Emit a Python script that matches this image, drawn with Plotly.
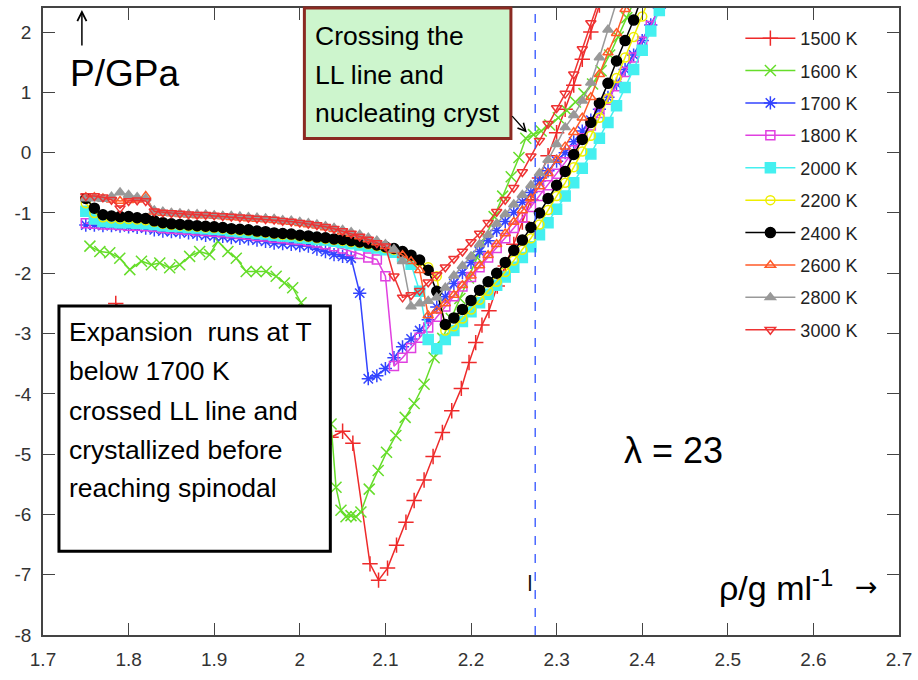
import plotly.graph_objects as go

# ---------------- data ----------------
RHO_GRID = [1.75, 1.76, 1.77, 1.78, 1.79, 1.80, 1.81, 1.82, 1.83, 1.84,
            1.85, 1.86, 1.87, 1.88, 1.89, 1.90, 1.91, 1.92, 1.93, 1.94,
            1.95, 1.96, 1.97, 1.98, 1.99, 2.00, 2.01, 2.02, 2.03, 2.04,
            2.05, 2.06, 2.07, 2.08, 2.09, 2.10, 2.11, 2.12, 2.13, 2.14,
            2.15, 2.16, 2.17, 2.18, 2.19, 2.20, 2.21, 2.22, 2.23, 2.24,
            2.25, 2.26, 2.27, 2.28, 2.29, 2.30, 2.31, 2.32, 2.33, 2.34,
            2.35, 2.36, 2.37, 2.38, 2.39, 2.40, 2.41, 2.42, 2.43]

T1500_RHO = [1.785, 1.80, 1.83, 1.87, 1.91, 1.95, 1.99, 2.02, 2.0365, 2.05,
             2.062, 2.082, 2.092, 2.1025, 2.113, 2.124, 2.1336, 2.1452, 2.1557, 2.1666,
             2.1775, 2.1887, 2.1977, 2.2055, 2.2128, 2.221, 2.2307, 2.24, 2.25, 2.26,
             2.27, 2.28, 2.29, 2.30, 2.31, 2.32, 2.33, 2.34, 2.35]
T1500_P = [-2.50, -2.75, -3.05, -3.35, -3.65, -3.95, -4.25, -4.55, -4.72, -4.62,
           -4.82, -6.82, -7.09, -6.89, -6.51, -6.13, -5.77, -5.43, -5.04, -4.64,
           -4.28, -3.91, -3.48, -3.15, -2.86, -2.62, -2.21, -1.88, -1.52, -1.15,
           -0.78, -0.42, -0.05, 0.33, 0.72, 1.12, 1.55, 2.00, 2.45]

T1600_RHO = [1.7548, 1.7664, 1.778, 1.7897, 1.8014, 1.815, 1.8267, 1.8364, 1.848, 1.8597,
             1.8713, 1.883, 1.8946, 1.9043, 1.916, 1.9258, 1.9374, 1.949, 1.9607, 1.9724,
             1.982, 1.9917, 2.0015, 2.012, 2.022, 2.030, 2.0365, 2.0423, 2.0481, 2.054,
             2.0598, 2.0656, 2.0714, 2.0811, 2.0916, 2.1013, 2.1122, 2.1231, 2.1336, 2.1452,
             2.1569, 2.167, 2.177, 2.187, 2.197, 2.207, 2.217, 2.227, 2.237, 2.247,
             2.256, 2.264, 2.273, 2.282, 2.292, 2.302, 2.312, 2.322, 2.332, 2.342,
             2.352, 2.362, 2.372, 2.382, 2.390]
T1600_P = [-1.55, -1.64, -1.66, -1.75, -1.94, -1.80, -1.86, -1.83, -1.91, -1.86,
           -1.72, -1.64, -1.69, -1.47, -1.64, -1.75, -1.97, -1.97, -1.97, -2.05,
           -2.16, -2.24, -2.49, -2.90, -3.40, -3.90, -4.50, -5.55, -5.93, -6.04,
           -6.02, -6.04, -5.96, -5.58, -5.27, -4.97, -4.69, -4.39, -4.16, -3.84,
           -3.40, -3.08, -2.75, -2.42, -2.08, -1.74, -1.40, -1.06, -0.72, -0.40,
           -0.08, 0.24, 0.30, 0.36, 0.46, 0.58, 0.70, 0.84, 0.98, 1.14,
           1.36, 1.62, 1.92, 2.24, 2.50]

# pressures on RHO_GRID, starting at 1.75
T1700_P = [-1.20, -1.20, -1.21, -1.21, -1.22, -1.23, -1.24, -1.25, -1.28, -1.30,
           -1.31, -1.32, -1.33, -1.35, -1.37, -1.38, -1.39, -1.41, -1.42, -1.43,
           -1.45, -1.47, -1.50, -1.51, -1.52, -1.54, -1.55, -1.60, -1.64, -1.69,
           -1.72, -1.75, -2.33, -3.75, -3.70, -3.58, -3.40, -3.22, -3.09, -2.95,
           -2.77, -2.56, -2.39, -2.17, -1.99, -1.82, -1.64, -1.46, -1.29, -1.14,
           -0.99, -0.82, -0.66, -0.47, -0.30, -0.14, 0.00, 0.18, 0.36, 0.54,
           0.72, 0.92, 1.14, 1.38, 1.62, 1.86, 2.12, 2.40, 2.70]
T1800_P = [-1.17, -1.18, -1.19, -1.19, -1.20, -1.21, -1.21, -1.22, -1.23, -1.25,
           -1.26, -1.27, -1.28, -1.29, -1.30, -1.31, -1.32, -1.33, -1.35, -1.36,
           -1.38, -1.39, -1.41, -1.42, -1.44, -1.45, -1.47, -1.49, -1.52, -1.55,
           -1.59, -1.63, -1.68, -1.74, -1.77, -2.05, -3.54, -3.40, -3.24, -3.07,
           -2.90, -2.72, -2.55, -2.38, -2.22, -2.06, -1.90, -1.74, -1.58, -1.42,
           -1.25, -1.08, -0.90, -0.72, -0.54, -0.35, -0.16, 0.04, 0.24, 0.45,
           0.66, 0.88, 1.10, 1.34, 1.58, 1.84, 2.10, 2.38, 2.66]
T2000_P = [-0.97, -1.10, -1.14, -1.15, -1.16, -1.16, -1.17, -1.18, -1.19, -1.21,
           -1.22, -1.23, -1.24, -1.25, -1.26, -1.27, -1.28, -1.30, -1.31, -1.32,
           -1.34, -1.35, -1.37, -1.38, -1.39, -1.41, -1.42, -1.44, -1.45, -1.47,
           -1.49, -1.51, -1.53, -1.55, -1.58, -1.61, -1.65, -1.72, -1.85, -2.30,
           -3.10, -3.25, -3.10, -2.95, -2.80, -2.64, -2.49, -2.35, -2.20, -2.06,
           -1.90, -1.74, -1.56, -1.36, -1.16, -0.94, -0.72, -0.50, -0.26, -0.02,
           0.24, 0.50, 0.78, 1.08, 1.38, 1.70, 2.02, 2.36, 2.70]
T2200_P = [-0.84, -1.00, -1.07, -1.09, -1.10, -1.10, -1.11, -1.12, -1.15, -1.18,
           -1.20, -1.21, -1.22, -1.23, -1.24, -1.25, -1.26, -1.28, -1.29, -1.30,
           -1.32, -1.33, -1.35, -1.36, -1.37, -1.39, -1.40, -1.42, -1.43, -1.45,
           -1.46, -1.48, -1.50, -1.52, -1.55, -1.58, -1.61, -1.66, -1.72, -1.80,
           -1.90, -2.05, -2.95, -2.88, -2.75, -2.60, -2.44, -2.29, -2.14, -1.98,
           -1.79, -1.61, -1.42, -1.19, -0.95, -0.72, -0.50, -0.24, 0.02, 0.28,
           0.58, 0.90, 1.24, 1.58, 1.92, 2.26, 2.62]
T2400_P = [-0.76, -0.92, -1.03, -1.05, -1.06, -1.06, -1.08, -1.09, -1.13, -1.16,
           -1.18, -1.19, -1.20, -1.21, -1.22, -1.23, -1.24, -1.26, -1.27, -1.28,
           -1.30, -1.31, -1.33, -1.34, -1.35, -1.37, -1.38, -1.40, -1.41, -1.43,
           -1.44, -1.46, -1.48, -1.50, -1.53, -1.56, -1.59, -1.64, -1.70, -1.78,
           -1.95, -2.30, -2.85, -2.74, -2.60, -2.45, -2.28, -2.14, -2.00, -1.82,
           -1.62, -1.45, -1.24, -1.00, -0.76, -0.54, -0.31, -0.03, 0.22, 0.50,
           0.82, 1.15, 1.52, 1.86, 2.20, 2.60]
T2600_P = [-0.74, -0.74, -0.76, -0.78, -0.80, -0.79, -0.78, -0.72, -0.98, -1.00,
           -1.01, -1.02, -1.03, -1.04, -1.04, -1.05, -1.06, -1.07, -1.08, -1.09,
           -1.10, -1.11, -1.12, -1.14, -1.15, -1.17, -1.19, -1.21, -1.24, -1.27,
           -1.31, -1.35, -1.39, -1.44, -1.49, -1.55, -1.62, -1.70, -1.80, -1.95,
           -2.70, -2.62, -2.50, -2.36, -2.20, -2.04, -1.87, -1.70, -1.52, -1.34,
           -1.15, -0.96, -0.76, -0.56, -0.34, -0.12, 0.10, 0.34, 0.58, 0.92,
           1.30, 1.66, 1.98, 2.38, 2.70]
T2800_P = [-0.76, -0.76, -0.77, -0.73, -0.66, -0.70, -0.74, -0.76, -0.96, -0.98,
           -1.00, -1.01, -1.02, -1.02, -1.03, -1.04, -1.05, -1.05, -1.06, -1.07,
           -1.08, -1.09, -1.10, -1.12, -1.13, -1.15, -1.17, -1.19, -1.22, -1.25,
           -1.28, -1.32, -1.36, -1.41, -1.46, -1.52, -1.60, -1.80, -2.55, -2.50,
           -2.46, -2.40, -2.24, -2.04, -1.88, -1.72, -1.52, -1.36, -1.18, -1.02,
           -0.86, -0.70, -0.54, -0.34, -0.12, 0.14, 0.42, 0.62, 0.86, 1.16,
           1.58, 2.04, 2.50]
T3000_P = [-0.72, -0.72, -0.74, -0.78, -0.92, -0.80, -0.79, -0.80, -0.97, -0.99,
           -1.00, -1.01, -1.02, -1.03, -1.03, -1.04, -1.05, -1.06, -1.07, -1.08,
           -1.09, -1.10, -1.11, -1.13, -1.14, -1.16, -1.18, -1.20, -1.23, -1.26,
           -1.30, -1.34, -1.39, -1.44, -1.50, -1.55, -2.05, -2.40, -2.36, -2.29,
           -2.15, -2.03, -1.90, -1.76, -1.64, -1.48, -1.34, -1.16, -0.98, -0.78,
           -0.58, -0.32, -0.06, 0.20, 0.48, 0.74, 0.98, 1.30, 1.72, 2.15,
           2.55]

LL_RHO = 2.275  # dashed vertical marker

X_TICKS = [1.7, 1.8, 1.9, 2.0, 2.1, 2.2, 2.3, 2.4, 2.5, 2.6, 2.7]
X_TICK_LABELS = ["1.7", "1.8", "1.9", "2", "2.1", "2.2", "2.3", "2.4", "2.5", "2.6", "2.7"]
Y_TICKS = [-8, -7, -6, -5, -4, -3, -2, -1, 0, 1, 2]
Y_TICK_LABELS = ["-8", "-7", "-6", "-5", "-4", "-3", "-2", "-1", "0", "1", "2"]

# ---------------- styling ----------------
series = [
    ("1500 K", T1500_RHO, T1500_P, "#ee2a2a", "cross-thin-open", 11),
    ("1600 K", T1600_RHO, T1600_P, "#66dd2a", "x-thin-open", 11),
    ("1700 K", RHO_GRID, T1700_P, "#3344ff", "asterisk-open", 11),
    ("1800 K", RHO_GRID, T1800_P, "#e040e0", "square-open", 9),
    ("2000 K", RHO_GRID, T2000_P, "#44f0f0", "square", 10),
    ("2200 K", RHO_GRID, T2200_P, "#eeee00", "circle-open", 9),
    ("2400 K", RHO_GRID, T2400_P, "#000000", "circle", 10),
    ("2600 K", RHO_GRID, T2600_P, "#ff5a28", "triangle-up-open", 9),
    ("2800 K", RHO_GRID, T2800_P, "#999999", "triangle-up", 9),
    ("3000 K", RHO_GRID, T3000_P, "#ee3333", "triangle-down-open", 9),
]

fig = go.Figure()
for name, rho, p, col, sym, sz in series:
    n = min(len(rho), len(p))
    fig.add_trace(go.Scatter(
        x=rho[:n], y=p[:n], name=name, legendgroup=name,
        mode="lines+markers",
        line=dict(color=col, width=1.5),
        marker=dict(symbol=sym, size=sz, color=col, line=dict(color=col, width=1.5)),
    ))

fig.add_vline(x=LL_RHO, line=dict(color="#2f52ff", width=1.3, dash="dash"))

L, R, T, B = 43, 17, 6, 45
W, H = 918, 680
PW, PH = W - L - R, H - T - B


def px(xp):
    return (xp - L) / PW


def py(yp):
    return (H - B - yp) / PH


FONT = "Liberation Sans, Arial, sans-serif"
shapes = [
    dict(type="rect", xref="paper", yref="paper", layer="above",
         x0=px(305), x1=px(512), y0=py(137), y1=py(6),
         fillcolor="#cdf5cd", line=dict(color="#8b2a22", width=3)),
    dict(type="rect", xref="paper", yref="paper", layer="above",
         x0=px(59), x1=px(331), y0=py(551), y1=py(305),
         fillcolor="white", line=dict(color="black", width=3)),
]
fig.update_layout(shapes=list(fig.layout.shapes) + shapes)

ann = []
for txt, yy in [("Crossing the", 34), ("LL line and", 73), ("nucleating cryst", 111)]:
    ann.append(dict(text=txt, x=px(314), y=py(yy), xref="paper", yref="paper",
                    xanchor="left", yanchor="middle", showarrow=False,
                    font=dict(family=FONT, size=26.5, color="black")))
for txt, yy in [("Expansion\u00a0 runs at T", 331), ("below 1700 K", 370),
                ("crossed LL line and", 410), ("crystallized before", 449),
                ("reaching spinodal", 488)]:
    ann.append(dict(text=txt, x=px(67), y=py(yy), xref="paper", yref="paper",
                    xanchor="left", yanchor="middle", showarrow=False,
                    font=dict(family=FONT, size=26.5, color="black")))
ann.append(dict(text="P/GPa", x=px(68), y=py(72), xref="paper", yref="paper",
                xanchor="left", yanchor="middle", showarrow=False,
                font=dict(family=FONT, size=37, color="black")))
ann.append(dict(text="", x=px(82), y=py(8), xref="paper", yref="paper",
                ax=0, ay=37, showarrow=True, arrowhead=5, arrowsize=1.2,
                arrowwidth=1.5, arrowcolor="black"))
ann.append(dict(text="", x=px(528), y=py(131), xref="paper", yref="paper",
                ax=-16, ay=-18, showarrow=True, arrowhead=5, arrowsize=1.2,
                arrowwidth=1.3, arrowcolor="black"))
ann.append(dict(text="\u03bb = 23", x=px(675), y=py(450), xref="paper", yref="paper",
                xanchor="center", yanchor="middle", showarrow=False,
                font=dict(family=FONT, size=36, color="black")))
ann.append(dict(text="\u03c1/g ml<sup>-1</sup>",
                x=px(719), y=py(585), xref="paper", yref="paper",
                xanchor="left", yanchor="middle", showarrow=False,
                font=dict(family=FONT, size=34, color="black")))
ann.append(dict(text="\u2192", x=px(868), y=py(586), xref="paper", yref="paper",
                xanchor="center", yanchor="middle", showarrow=False,
                font=dict(family="DejaVu Sans, sans-serif", size=27, color="black")))
ann.append(dict(text="l", x=px(531), y=py(584), xref="paper", yref="paper",
                xanchor="center", yanchor="middle", showarrow=False,
                font=dict(family="DejaVu Sans, sans-serif", size=21, color="#111")))
fig.update_layout(annotations=ann)

axis_common = dict(showline=True, linecolor="#444", linewidth=1.5, mirror="ticks",
                   ticks="inside", ticklen=12, tickwidth=1.3, tickcolor="#444",
                   showgrid=False, zeroline=False, ticklabelstandoff=6,
                   tickfont=dict(family=FONT, size=19, color="#333"))
fig.update_xaxes(range=[1.7, 2.7], tickvals=X_TICKS, ticktext=X_TICK_LABELS, **axis_common)
fig.update_yaxes(range=[-8, 2.4], tickvals=Y_TICKS, ticktext=Y_TICK_LABELS, **axis_common)

fig.update_layout(
    width=W, height=H, margin=dict(l=L, r=R, t=T, b=B),
    paper_bgcolor="white", plot_bgcolor="white",
    showlegend=True,
    legend=dict(x=px(742), y=py(18), xanchor="left", yanchor="top",
                bgcolor="rgba(0,0,0,0)", font=dict(family=FONT, size=18, color="#222"),
                tracegroupgap=6, itemwidth=50),
)

fig.write_html("out.html")
